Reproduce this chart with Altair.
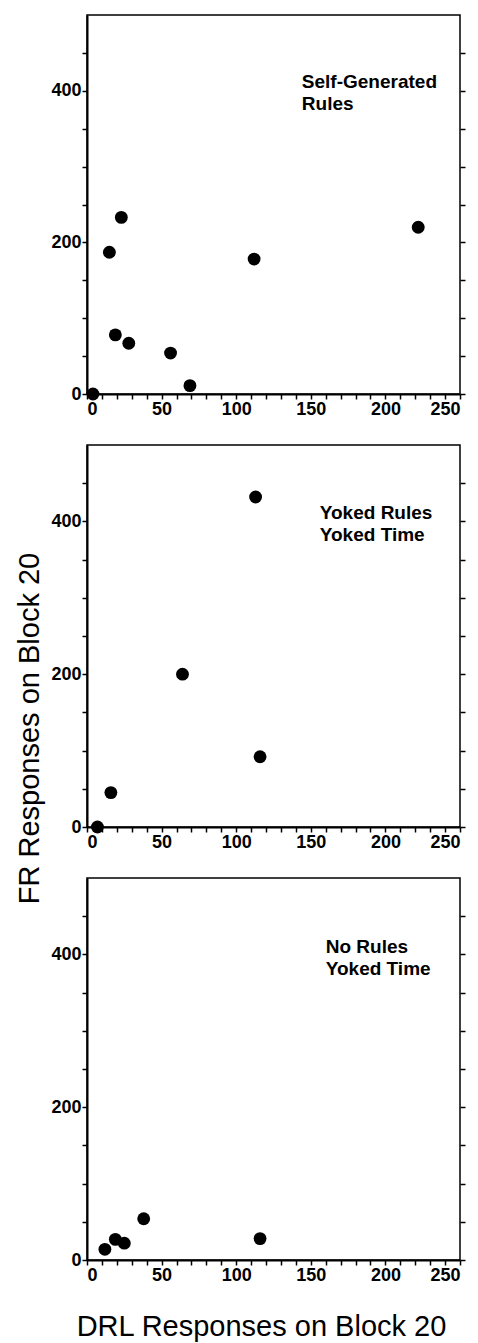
import altair as alt
import pandas as pd

FONT = "Liberation Sans"

# Panel annotations (text lines) and their anchor in data units
label_lines = [["Self-Generated", "Rules"], ["Yoked Rules", "Yoked Time"], ["No Rules", "Yoked Time"]]
label_x = [144, 156, 160]
label_y = [423, 423, 421]

# Self-Generated Rules
sg_drl = [4, 15, 23, 19, 28, 56, 69, 112, 222]
sg_fr = [0, 187, 233, 78, 67, 54, 11, 178, 220]
# Yoked Rules / Yoked Time
yr_drl = [7, 16, 64, 113, 116]
yr_fr = [0, 45, 200, 432, 92]
# No Rules / Yoked Time
nr_drl = [12, 19, 25, 38, 116]
nr_fr = [14, 27, 22, 54, 28]

x_ticks = list(range(0, 251, 10))
y_ticks = list(range(0, 451, 50))

x_title = "DRL Responses on Block 20"
y_title = "FR Responses on Block 20"


def panel(xs, ys, lines, lx, ly, ytitle, xtitle, h):
    df = pd.DataFrame({"drl": xs, "fr": ys})
    xscale = alt.Scale(domain=[0, 250], nice=False, zero=False)
    yscale = alt.Scale(domain=[0, 500], nice=False)

    xaxis_kw = dict(values=x_ticks,
                    labelExpr="datum.value % 50 == 0 ? datum.label : ''",
                    title=xtitle)
    if xtitle:
        xaxis_kw.update(titleFont=FONT, titleFontSize=29, titleFontWeight="normal",
                        titlePadding=28, titleColor="black", titleX=174)
    xaxis = alt.Axis(**xaxis_kw)

    yaxis_kw = dict(values=y_ticks,
                    labelExpr="datum.value % 200 == 0 ? datum.label : ''",
                    title=ytitle)
    if ytitle:
        yaxis_kw.update(titleFont=FONT, titleFontSize=29, titleFontWeight="normal",
                        titlePadding=6, titleColor="black", titleY=283)
    yaxis = alt.Axis(**yaxis_kw)

    pts = alt.Chart(df).mark_circle(size=165, color="black", opacity=1).encode(
        x=alt.X("drl:Q", scale=xscale, axis=xaxis),
        y=alt.Y("fr:Q", scale=yscale, axis=yaxis),
    )
    tdf = pd.DataFrame({"lx": [lx], "ly": [ly], "txt": ["\n".join(lines)]})
    txt = alt.Chart(tdf).mark_text(
        align="left", baseline="top", font=FONT, fontSize=19, fontWeight="bold",
        lineBreak="\n", lineHeight=22, color="black"
    ).encode(
        x=alt.X("lx:Q", scale=xscale, axis=xaxis),
        y=alt.Y("ly:Q", scale=yscale, axis=None),
        text="txt:N",
    )
    right = alt.Chart(df).mark_point(opacity=0).encode(
        y=alt.Y("fr:Q", scale=yscale,
                axis=alt.Axis(orient="right", values=y_ticks, labels=False,
                              title=None, domain=False)),
    )
    return alt.layer(pts, txt, right).resolve_axis(y="independent").properties(
        width=373, height=h)


p1 = panel(sg_drl, sg_fr, label_lines[0], label_x[0], label_y[0], None, None, 379)
p2 = panel(yr_drl, yr_fr, label_lines[1], label_x[1], label_y[1], y_title, None, 382)
p3 = panel(nr_drl, nr_fr, label_lines[2], label_x[2], label_y[2], None, x_title, 382)

chart = alt.vconcat(p1, p2, p3, spacing=51, bounds="flush").properties(
    padding={"left": 7, "top": 6, "right": 0, "bottom": 0},
    background="white",
).configure_view(
    stroke="black", strokeWidth=1.5
).configure_axis(
    grid=False,
    labelFont=FONT, labelFontSize=18, labelFontWeight="bold", labelColor="black",
    labelPadding=1, tickSize=5, tickColor="black", tickWidth=1.5,
    domainColor="black", domainWidth=2,
)

chart.save("out.html", embed_options={"renderer": "svg", "actions": False})
